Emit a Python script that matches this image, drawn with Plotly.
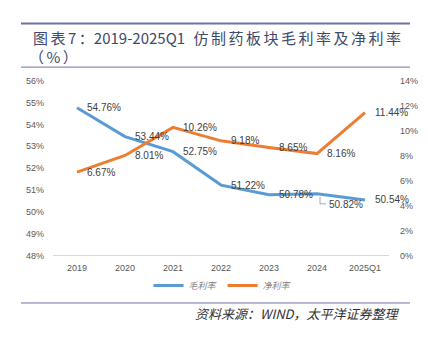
import plotly.graph_objects as go

# Gross and net margin of the generic-drug sector
years = ["2019", "2020", "2021", "2022", "2023", "2024", "2025Q1"]
gross_margin = [54.76, 53.44, 52.75, 51.22, 50.78, 50.82, 50.54]
net_margin = [6.67, 8.01, 10.26, 9.18, 8.65, 8.16, 11.44]
left_ticks = [48, 49, 50, 51, 52, 53, 54, 55, 56]
right_ticks = [0, 2, 4, 6, 8, 10, 12, 14]

W, H = 428, 340
BLUE = "#5b9bd5"
ORANGE = "#ed7d31"
RULE = "#6f70a8"
TITLE = "#3d4a6b"
GRAY = "#595959"
CJK = "Noto Sans CJK SC"
SP = "\u2006"


def py(pix):
    """pixel row -> paper y"""
    return 1 - pix / H


def px(pix):
    return pix / W


fig = go.Figure()
fig.add_trace(go.Scatter(x=years, y=gross_margin, name="毛利率", mode="lines",
                         line=dict(color=BLUE, width=3), yaxis="y"))
fig.add_trace(go.Scatter(x=years, y=net_margin, name="净利率", mode="lines",
                         line=dict(color=ORANGE, width=3), yaxis="y2"))

annotations = []
shapes = []
label_font = dict(family="Liberation Sans, Arial", size=10, color="#404040")

# category positions are addressed by index (year strings would be read as numbers)
for i, (yr, v) in enumerate(zip(years, gross_margin)):
    if yr == "2024":
        # label pushed below the point with an elbow leader
        annotations.append(dict(x=i, y=v, xref="x", yref="y", text=f"{v:.2f}%",
                                showarrow=False, xanchor="left", yanchor="middle",
                                xshift=10, yshift=-11, font=label_font))
        shapes.append(dict(type="path", xref="x", yref="y", xsizemode="pixel",
                           ysizemode="pixel", xanchor=i, yanchor=v,
                           path="M3,-3 L3,-10 L9,-10",
                           line=dict(color="#a6a6a6", width=1)))
    else:
        annotations.append(dict(x=i, y=v, xref="x", yref="y", text=f"{v:.2f}%",
                                showarrow=False, xanchor="left", yanchor="middle",
                                xshift=8, font=label_font))

for i, v in enumerate(net_margin):
    annotations.append(dict(x=i, y=v, xref="x", yref="y2", text=f"{v:.2f}%",
                            showarrow=False, xanchor="left", yanchor="middle",
                            xshift=8, font=label_font))

# Title block
title_cn = SP.join("仿制药板块毛利率及净利率")
annotations.append(dict(xref="paper", yref="paper", x=px(31), y=py(33),
                        xanchor="left", yanchor="middle", showarrow=False,
                        text=f"图{SP}表{SP}7{SP}：2019-2025Q1{SP}{SP} {title_cn}",
                        font=dict(family=CJK, size=15, color=TITLE)))
annotations.append(dict(xref="paper", yref="paper", x=px(27), y=py(53),
                        xanchor="left", yanchor="middle", showarrow=False,
                        text=f"（{SP}%{SP}）", font=dict(family=CJK, size=15, color=TITLE)))
# Source note
annotations.append(dict(xref="paper", yref="paper", x=px(402), y=py(318),
                        xanchor="right", yanchor="middle", showarrow=False,
                        text="资料来源：WIND，太平洋证券整理",
                        font=dict(family=CJK, size=13, color="#333333", style="italic")))

# Rules framing the title and the chart
shapes += [
    dict(type="line", xref="paper", yref="paper", x0=px(21), x1=px(410),
         y0=py(19), y1=py(19), line=dict(color=RULE, width=2)),
    dict(type="line", xref="paper", yref="paper", x0=px(21), x1=px(410),
         y0=py(64), y1=py(64), line=dict(color=RULE, width=1)),
    dict(type="line", xref="paper", yref="paper", x0=px(21), x1=px(410),
         y0=py(307), y1=py(307), line=dict(color=RULE, width=1)),
]

tick_font = dict(family="Liberation Sans, Arial", size=9, color=GRAY)

fig.update_layout(
    width=W, height=H,
    margin=dict(l=0, r=0, t=0, b=0),
    paper_bgcolor="white", plot_bgcolor="white",
    showlegend=True,
    legend=dict(orientation="h", x=0.52, xanchor="center", y=py(289), yanchor="middle",
                font=dict(family=CJK, size=9, color="#7f7f7f", style="italic"),
                bgcolor="rgba(0,0,0,0)", itemwidth=30, tracegroupgap=0),
    xaxis=dict(type="category", domain=[px(53), px(389)], range=[-0.5, 6.5],
               showgrid=False, zeroline=False, showline=True, linecolor="#d9d9d9",
               linewidth=1, ticks="", tickfont=tick_font, ticklabelstandoff=4,
               anchor="y"),
    yaxis=dict(domain=[py(258), py(78)], range=[48, 56], tickvals=left_ticks,
               ticktext=[f"{t}%" for t in left_ticks], showgrid=False,
               zeroline=False, showline=False, tickfont=tick_font,
               ticklabelstandoff=8),
    yaxis2=dict(domain=[py(258), py(78)], range=[0, 14], tickvals=right_ticks,
                ticktext=[f"{t}%" for t in right_ticks], overlaying="y", side="right",
                showgrid=False, zeroline=False, showline=False, tickfont=tick_font,
                ticklabelstandoff=10, anchor="x"),
    annotations=annotations,
    shapes=shapes,
)

fig.write_html("out.html")
